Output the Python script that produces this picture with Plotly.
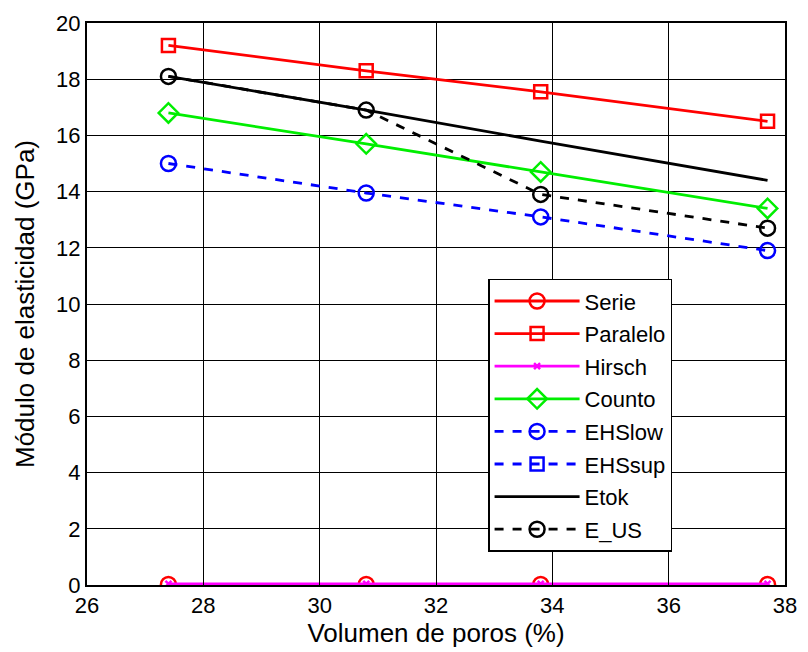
import plotly.graph_objects as go

poros = [27.4, 30.8, 33.8, 37.7]
serie = [0.02, 0.02, 0.02, 0.02]
paralelo = [19.2, 18.3, 17.55, 16.5]
hirsch = [0.04, 0.04, 0.04, 0.04]
counto = [16.8, 15.7, 14.7, 13.4]
ehslow = [15.0, 13.95, 13.1, 11.9]
ehssup = [None, None, None, None]
etok = [18.1, 16.9, 15.8, 14.4]
e_us = [18.1, 16.9, 13.9, 12.7]

x_ticks = [26, 28, 30, 32, 34, 36, 38]
y_ticks = [0, 2, 4, 6, 8, 10, 12, 14, 16, 18, 20]

fig = go.Figure()

def add(name, y, color, dash, symbol, size=14, lw=2.8, mode="lines+markers"):
    fig.add_trace(go.Scatter(
        x=poros, y=y, name=name, mode=mode,
        line=dict(color=color, width=lw, dash=dash),
        marker=dict(symbol=symbol, size=size, color=color,
                    line=dict(color=color, width=2.5)),
        legendgroup=name,
    ))

add("Serie", serie, "#ff0000", "solid", "circle-open", 15)
add("Paralelo", paralelo, "#ff0000", "solid", "square-open", 13)
add("Hirsch", hirsch, "#ff00ff", "solid", "x-thin-open", 6)
add("Counto", counto, "#00ee00", "solid", "diamond-open", 15)
add("EHSlow", ehslow, "#0000ff", "dash", "circle-open", 15)
add("EHSsup", ehssup, "#0000ff", "dash", "square-open", 13)
add("Etok", etok, "#000000", "solid", "circle-open", 15, mode="lines")
add("E_US", e_us, "#000000", "dash", "circle-open", 15)

fig.update_layout(
    width=808, height=652,
    margin=dict(l=87, r=11, t=20, b=65),
    paper_bgcolor="white", plot_bgcolor="white",
    font=dict(family="Arial, Liberation Sans", size=22, color="black"),
    showlegend=True,
    legend=dict(
        x=0.5746, y=0.545, xanchor="left", yanchor="top",
        bgcolor="white", bordercolor="black", borderwidth=1.5,
        font=dict(size=22), tracegroupgap=1,
        itemwidth=85,
    ),
    xaxis=dict(
        range=[26, 38], tickvals=x_ticks, ticktext=[str(v) for v in x_ticks],
        showgrid=True, gridcolor="black", gridwidth=1,
        showline=True, linecolor="black", linewidth=2, mirror=True,
        ticks="inside", ticklen=5, tickcolor="black",
        zeroline=False,
        title=dict(text="Volumen de poros (%)", font=dict(size=26), standoff=4),
    ),
    yaxis=dict(
        range=[0, 20], tickvals=y_ticks, ticktext=[str(v) for v in y_ticks],
        showgrid=True, gridcolor="black", gridwidth=1,
        showline=True, linecolor="black", linewidth=2, mirror=True,
        ticks="inside", ticklen=5, tickcolor="black",
        zeroline=False,
        title=dict(text="Módulo de elasticidad (GPa)", font=dict(size=26), standoff=14),
    ),
)

fig.write_html("out.html")
